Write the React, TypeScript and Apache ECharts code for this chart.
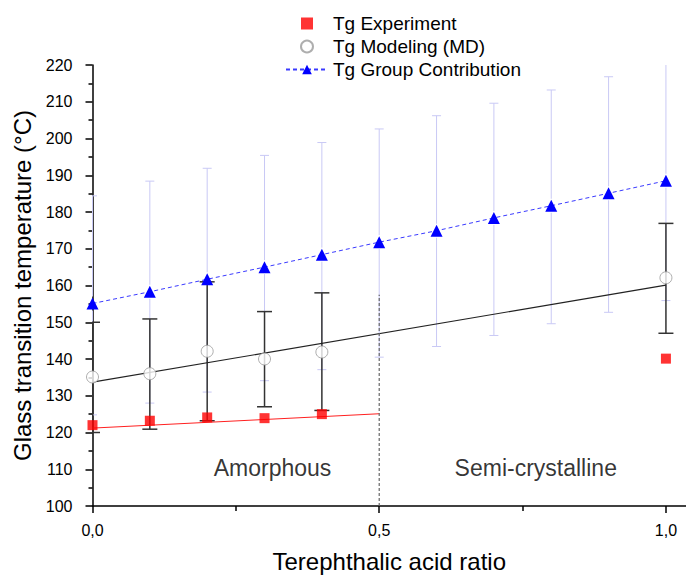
import React, { useEffect, useRef } from 'react';
import * as echarts from 'echarts';

// ---- data ----
const expRatio = [0, 0.1, 0.2, 0.3, 0.4, 1.0];
const expTg = [122.0, 123.2, 124.1, 123.9, 125.0, 140.1];

const mdRatio = [0, 0.1, 0.2, 0.3, 0.4, 1.0];
const mdTg = [135.1, 136.0, 142.1, 140.0, 141.9, 162.1];
const mdLow = [120.0, 120.9, 123.2, 127.0, 126.0, 147.0];
const mdHigh = [150.0, 150.9, 161.0, 152.9, 158.0, 176.9];

const gcRatio = [0, 0.1, 0.2, 0.3, 0.4, 0.5, 0.6, 0.7, 0.8, 0.9, 1.0];
const gcTg = [155.1, 158.3, 161.7, 165.0, 168.4, 171.8, 174.9, 178.4, 181.7, 185.1, 188.5];
const gcLow = [124.8, 128.0, 131.0, 134.1, 137.1, 140.5, 143.4, 146.4, 149.6, 152.7, 155.9];
const gcHigh = [184.4, 188.4, 191.9, 195.4, 198.9, 202.6, 206.2, 209.6, 213.2, 216.8, 221.0];

const expFitRatio = [0, 0.5];
const expFitTg = [121.2, 125.1];
const mdFitRatio = [0, 1.0];
const mdFitTg = [133.7, 160.1];

const dividerRatio = [0.5, 0.5];
const dividerTg = [100, 157.5];

const regionNames = ['Amorphous', 'Semi-crystalline'];
const regionRatio = [0.314, 0.773];
const regionTg = [110.4, 110.4];

const xTickValues = [0, 0.5, 1.0];
const xMinorTickValues = [0.25, 0.75];

const FONT = '"Liberation Sans", Arial, sans-serif';

function errorBarItem(capW: number, color: string, width: number, gap: number) {
  return (params: any, api: any) => {
    const x = api.value(0);
    const lo = api.value(1);
    const hi = api.value(2);
    const mid = api.value(3);
    const pLo = api.coord([x, lo]);
    const pHi = api.coord([x, hi]);
    const pMid = api.coord([x, mid]);
    const style = { stroke: color, lineWidth: width };
    const h = capW / 2;
    const children: any[] = [];
    if (gap > 0) {
      children.push({ type: 'line', shape: { x1: pLo[0], y1: pLo[1], x2: pLo[0], y2: pMid[1] + gap }, style });
      children.push({ type: 'line', shape: { x1: pHi[0], y1: pMid[1] - gap, x2: pHi[0], y2: pHi[1] }, style });
    } else {
      children.push({ type: 'line', shape: { x1: pLo[0], y1: pLo[1], x2: pHi[0], y2: pHi[1] }, style });
    }
    children.push({ type: 'line', shape: { x1: pLo[0] - h, y1: pLo[1], x2: pLo[0] + h, y2: pLo[1] }, style });
    children.push({ type: 'line', shape: { x1: pHi[0] - h, y1: pHi[1], x2: pHi[0] + h, y2: pHi[1] }, style });
    return { type: 'group', children };
  };
}

export default function App() {
  const ref = useRef<HTMLDivElement>(null);

  useEffect(() => {
    if (!ref.current) return;
    const chart = echarts.init(ref.current, null, { renderer: 'svg' });

    const gcErr = gcRatio.map((r, i) => [r, gcLow[i], gcHigh[i], gcTg[i]]);
    const mdErr = mdRatio.map((r, i) => [r, mdLow[i], mdHigh[i], mdTg[i]]);

    chart.setOption({
      animation: false,
      textStyle: { fontFamily: FONT },
      grid: { left: 92.5, top: 65, right: 0, bottom: 68.7, containLabel: false },
      legend: {
        orient: 'vertical',
        left: 280,
        top: 9,
        itemWidth: 42,
        itemHeight: 12,
        itemGap: 4,
        data: [
          { name: 'Tg Experiment', icon: 'path://M0,0h10v10h-10z' },
          { name: 'Tg Modeling (MD)' },
          { name: 'Tg Group Contribution' },
        ],
        textStyle: { fontSize: 19, color: '#000', fontFamily: FONT, lineHeight: 19 },
      },
      xAxis: [
        {
          type: 'value',
          min: 0,
          max: 1.035,
          interval: 0.5,
          name: 'Terephthalic acid ratio',
          nameLocation: 'middle',
          nameGap: 43,
          nameTextStyle: { fontSize: 24, color: '#000', fontFamily: FONT },
          axisLine: { show: true, lineStyle: { color: '#000', width: 1.5 } },
          axisTick: { show: true, length: 7, customValues: xTickValues, lineStyle: { color: '#000', width: 1.5 } },
          axisLabel: {
            customValues: xTickValues,
            margin: 16,
            fontSize: 16,
            color: '#000',
            fontFamily: FONT,
            formatter: (v: number) => v.toFixed(1).replace('.', ','),
          },
          splitLine: { show: false },
        },
        {
          type: 'value',
          position: 'bottom',
          min: 0,
          max: 1.035,
          interval: 0.25,
          axisLine: { show: false },
          axisTick: { show: true, length: 5, customValues: xMinorTickValues, lineStyle: { color: '#000', width: 1.5 } },
          axisLabel: { show: false },
          splitLine: { show: false },
        },
      ],
      yAxis: {
        type: 'value',
        min: 100,
        max: 220,
        interval: 10,
        name: 'Glass transition temperature (°C)',
        nameLocation: 'middle',
        nameGap: 54,
        nameTextStyle: { fontSize: 24, color: '#000', fontFamily: FONT },
        axisLine: { show: true, lineStyle: { color: '#000', width: 1.5 } },
        axisTick: { show: true, length: 7, lineStyle: { color: '#000', width: 1.5 } },
        minorTick: { show: true, splitNumber: 2, length: 4, lineStyle: { color: '#000', width: 1.5 } },
        axisLabel: { margin: 20, fontSize: 16, color: '#000', fontFamily: FONT },
        splitLine: { show: false },
      },
      series: [
        {
          name: 'gcErr',
          type: 'custom',
          clip: true,
          renderItem: errorBarItem(9, '#c9c9f5', 1, 7),
          encode: { x: 0, y: [1, 2] },
          data: gcErr,
          z: 1,
        },
        {
          name: 'mdErr',
          type: 'custom',
          clip: true,
          renderItem: errorBarItem(15, '#333', 1.5, 0),
          encode: { x: 0, y: [1, 2] },
          data: mdErr,
          z: 2,
        },
        {
          name: 'expFit',
          type: 'line',
          data: expFitRatio.map((r, i) => [r, expFitTg[i]]),
          symbol: 'none',
          lineStyle: { color: '#ff2020', width: 1 },
          z: 3,
          silent: true,
        },
        {
          name: 'mdFit',
          type: 'line',
          data: mdFitRatio.map((r, i) => [r, mdFitTg[i]]),
          symbol: 'none',
          lineStyle: { color: '#222', width: 1.2 },
          z: 3,
          silent: true,
        },
        {
          name: 'divider',
          type: 'line',
          data: dividerRatio.map((r, i) => [r, dividerTg[i]]),
          symbol: 'none',
          lineStyle: { color: '#666', width: 1.2, type: [3, 2] },
          z: 3,
          silent: true,
        },
        {
          name: 'Tg Group Contribution',
          type: 'line',
          data: gcRatio.map((r, i) => [r, gcTg[i]]),
          symbol: 'triangle',
          symbolSize: 12,
          showAllSymbol: true,
          itemStyle: { color: '#0000ff' },
          lineStyle: { color: '#3a3aff', width: 1, type: [4, 3] },
          z: 4,
        },
        {
          name: 'Tg Modeling (MD)',
          type: 'scatter',
          data: mdRatio.map((r, i) => [r, mdTg[i]]),
          symbol: 'circle',
          symbolSize: 12,
          itemStyle: { color: '#ffffff', borderColor: '#9a9a9a', borderWidth: 1 },
          z: 5,
        },
        {
          name: 'Tg Experiment',
          type: 'scatter',
          data: expRatio.map((r, i) => [r, expTg[i]]),
          symbol: 'rect',
          symbolSize: 10,
          itemStyle: { color: '#ff0000' },
          z: 6,
        },
        {
          name: 'regions',
          type: 'scatter',
          data: regionRatio.map((r, i) => ({ value: [r, regionTg[i]], name: regionNames[i] })),
          symbolSize: 0,
          silent: true,
          label: {
            show: true,
            position: 'inside',
            formatter: (p: any) => p.name,
            fontSize: 23,
            color: '#000',
            fontFamily: FONT,
          },
          z: 7,
        },
      ],
    });

    return () => chart.dispose();
  }, []);

  return (
    <div
      ref={ref}
      style={{ position: 'fixed', left: 0, top: 0, width: 686, height: 578, background: '#fff' }}
    />
  );
}
